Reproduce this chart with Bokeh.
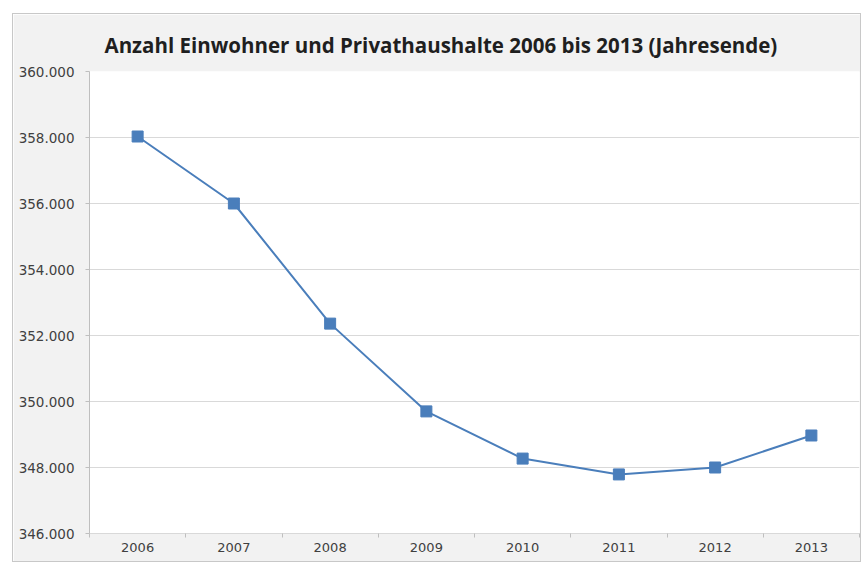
from bokeh.plotting import figure
from bokeh.models import FixedTicker, Range1d, ColumnDataSource
from bokeh.embed import file_html
from bokeh.resources import INLINE

years = ["2006", "2007", "2008", "2009", "2010", "2011", "2012", "2013"]
population = [358030, 356000, 352360, 349700, 348270, 347790, 348000, 348970]
y_ticks = [346000, 348000, 350000, 352000, 354000, 356000, 358000, 360000]
y_tick_labels = [f"{v:,}".replace(",", ".") for v in y_ticks]
title_text = "Anzahl Einwohner und Privathaushalte 2006 bis 2013 (Jahresende)"

TFONT = "Open Sans"
LFONT = "DejaVu Sans"
BLUE = "#4a7ebb"
GRID = "#d9d9d9"
BG = "#f2f2f2"
TEXT = "#404040"

xs = [i + 0.5 for i in range(len(years))]
src = ColumnDataSource(dict(x=xs, y=population))

p = figure(width=849, height=549, output_backend="svg", toolbar_location=None,
           x_range=Range1d(0, len(years)), y_range=Range1d(y_ticks[0], y_ticks[-1]))
p.margin = (13, 0, 0, 12)
p.min_border_left = 76
p.min_border_top = 57
p.min_border_right = 3
p.min_border_bottom = 30
p.background_fill_color = "white"
p.border_fill_color = BG
p.outline_line_color = None
p.styles = {"border": "1px solid #c8c8c8"}

p.title.text = title_text
p.title.align = "left"
p.title.vertical_align = "top"
p.title.offset = 15
p.title.text_font = TFONT
p.title.text_font_size = "20.5px"
p.title.text_font_style = "bold"
p.title.text_color = "#1f1f1f"
p.title.standoff = 22

p.line("x", "y", source=src, line_color=BLUE, line_width=2)
p.scatter("x", "y", source=src, marker="square", size=11, fill_color=BLUE, line_color=BLUE)

# x axis
xa = p.xaxis[0]
xa.ticker = FixedTicker(ticks=xs, minor_ticks=list(range(len(years) + 1)))
xa.major_label_overrides = {x: y for x, y in zip(xs, years)}
xa.major_tick_out = 0
xa.major_tick_in = 0
xa.minor_tick_out = 4
xa.minor_tick_in = 0
xa.minor_tick_line_color = "#bfbfbf"
xa.axis_line_color = GRID
xa.major_label_text_font = LFONT
xa.major_label_text_font_size = "13px"
xa.major_label_text_color = TEXT
xa.major_label_standoff = 5

# y axis
ya = p.yaxis[0]
ya.ticker = FixedTicker(ticks=y_ticks, minor_ticks=[])
ya.major_label_overrides = {v: l for v, l in zip(y_ticks, y_tick_labels)}
ya.major_tick_out = 4
ya.major_tick_in = 0
ya.major_tick_line_color = "#bfbfbf"
ya.axis_line_color = "#bfbfbf"
ya.major_label_text_font = LFONT
ya.major_label_text_font_size = "13.5px"
ya.major_label_text_color = TEXT
ya.major_label_standoff = 11

p.xgrid.grid_line_color = None
p.ygrid.grid_line_color = GRID
p.ygrid.grid_line_width = 1

open("out.html", "w").write(file_html(p, INLINE))
